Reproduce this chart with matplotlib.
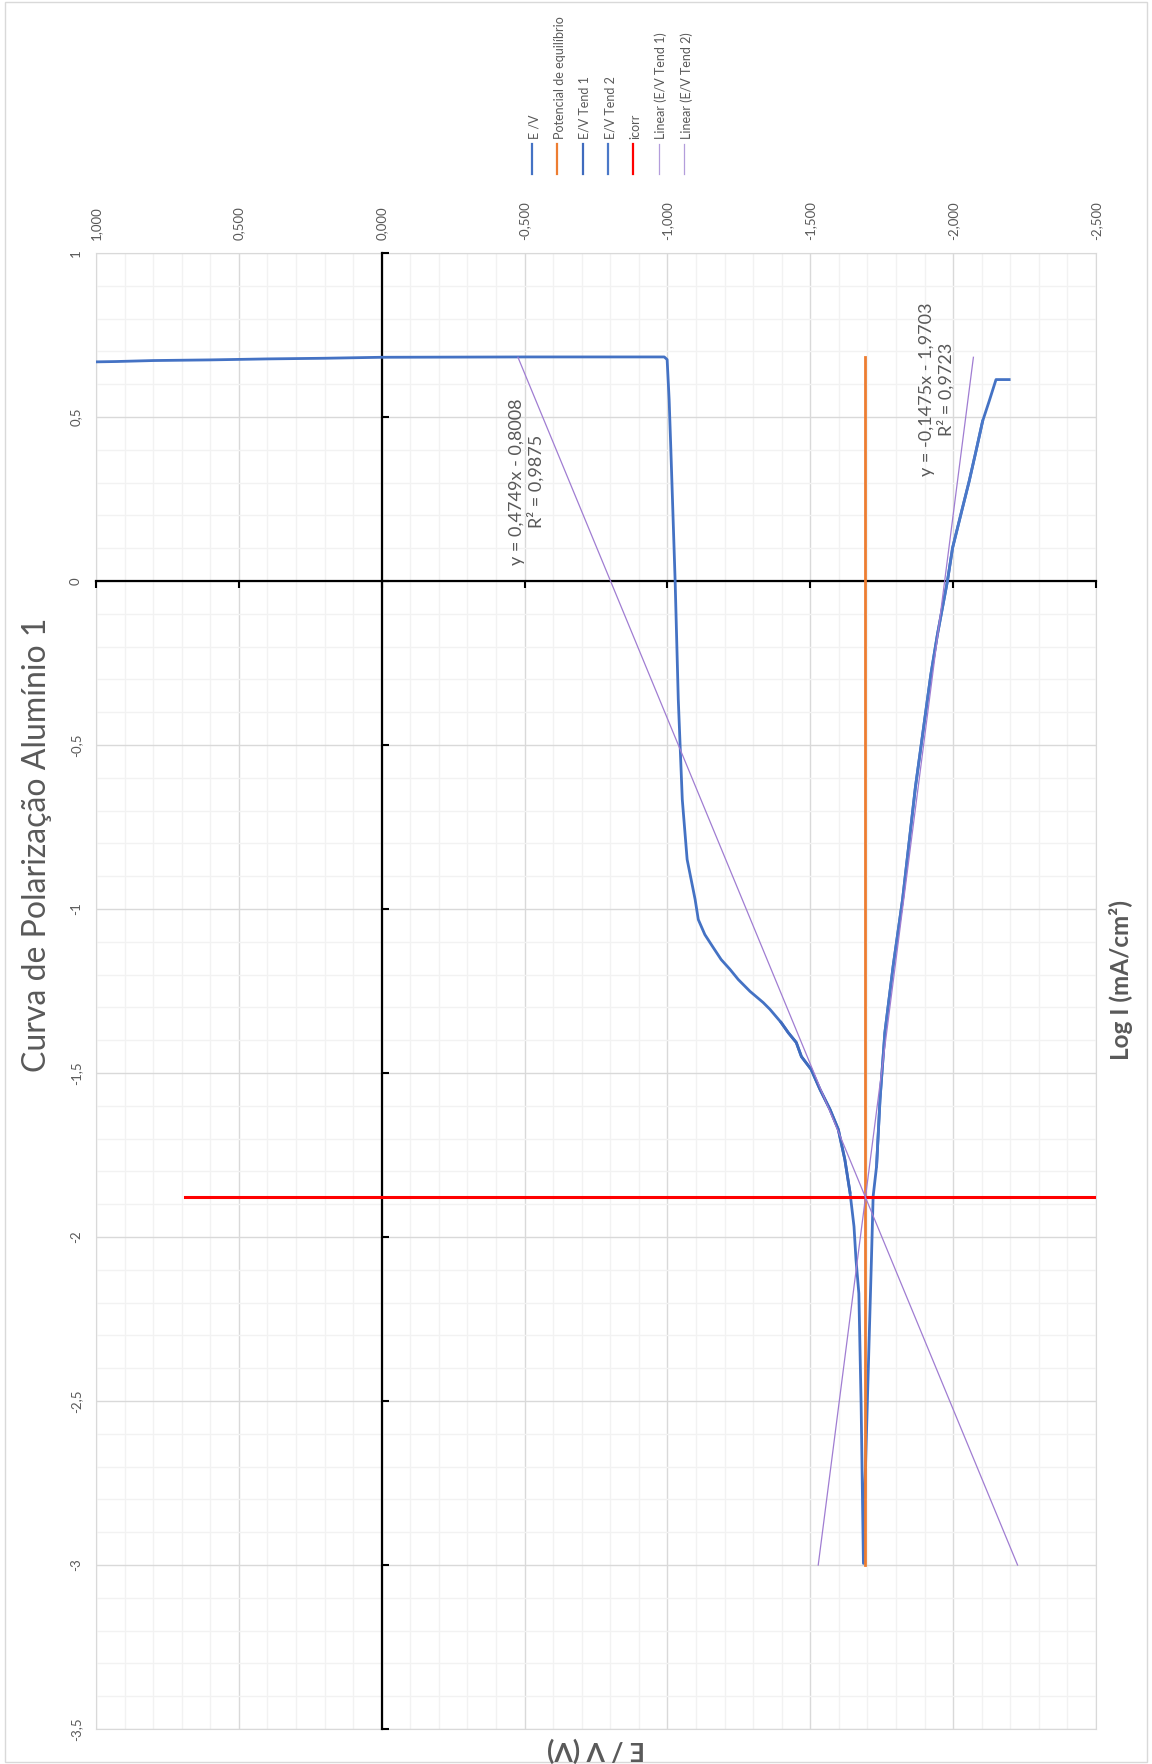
import matplotlib.pyplot as plt
from matplotlib.ticker import MultipleLocator, FuncFormatter
from matplotlib.lines import Line2D
from matplotlib.patches import Rectangle

plt.rcParams.update({
    "font.family": ["Lato", "DejaVu Sans"],
    "axes.unicode_minus": False,
})

# curva de polarização: E (V) vs log I (mA/cm2), na ordem da varredura
e_v = [-2.196, -2.150, -2.126, -2.103, -2.080, -2.056, -2.027, -1.998, -1.980,
       -1.945, -1.922, -1.868, -1.823, -1.790, -1.761, -1.744, -1.732, -1.720,
       -1.714, -1.703, -1.692, -1.686,
       -1.678, -1.670, -1.660, -1.653, -1.639, -1.621, -1.598, -1.569, -1.534,
       -1.503, -1.469, -1.451, -1.423, -1.398, -1.359, -1.335, -1.289, -1.248,
       -1.219, -1.188, -1.160, -1.131, -1.108, -1.097, -1.069, -1.052, -1.038,
       -1.027, -1.012, -1.006, -0.999, -0.989, -0.500, 0.000, 0.200, 0.400,
       0.600, 0.800, 0.930, 1.000]
log_i = [0.614, 0.614, 0.548, 0.487, 0.396, 0.304, 0.203, 0.101, 0.000,
         -0.163, -0.285, -0.628, -0.971, -1.174, -1.377, -1.581, -1.784, -1.876,
         -2.069, -2.404, -2.739, -2.995,
         -2.514, -2.172, -2.069, -1.968, -1.864, -1.764, -1.672, -1.611, -1.550,
         -1.489, -1.450, -1.407, -1.377, -1.346, -1.306, -1.285, -1.251, -1.215,
         -1.184, -1.154, -1.117, -1.078, -1.032, -0.971, -0.849, -0.666, -0.361,
         0.000, 0.401, 0.553, 0.675, 0.683, 0.683, 0.682, 0.679, 0.677,
         0.674, 0.672, 0.669, 0.668]

# trechos usados nas retas de Tafel
tend1_e = e_v[26:36]
tend1_logi = log_i[26:36]
tend2_e = e_v[3:17]
tend2_logi = log_i[3:17]

# retas de tendência (Excel)
tend1_a, tend1_b, tend1_r2 = 0.4749, -0.8008, 0.9875
tend2_a, tend2_b, tend2_r2 = -0.1475, -1.9703, 0.9723
trend_x = [-3.0, 0.682]

e_eq = -1.69          # potencial de equilíbrio
eq_logi = [-3.0, 0.682]
logi_corr = -1.879    # icorr
corr_e = [0.69, -2.5]

fmt_e = FuncFormatter(lambda v, p: f"{v:.3f}".replace(".", ","))
fmt_i = FuncFormatter(lambda v, p: f"{v:g}".replace(".", ","))

grey = "#595959"
fig = plt.figure(figsize=(11.52, 17.64), dpi=100)
rect = [0.0833, 0.0198, 0.8681, 0.8368]

ax = fig.add_axes(rect)
ax.set_xlim(1, -2.5)
ax.set_ylim(-3.5, 1)
for axis in (ax.xaxis, ax.yaxis):
    axis.set_major_locator(MultipleLocator(0.5))
    axis.set_minor_locator(MultipleLocator(0.1))
ax.xaxis.set_major_formatter(fmt_e)
ax.yaxis.set_major_formatter(fmt_i)
ax.grid(which="minor", color="#F2F2F2", lw=1)
ax.grid(which="major", color="#D9D9D9", lw=1)
ax.set_axisbelow(True)
ax.tick_params(which="both", length=0)
ax.tick_params(axis="x", labeltop=True, labelbottom=False, labelrotation=90,
               labelsize=9.5, labelcolor=grey, pad=9)
ax.tick_params(axis="y", labelrotation=90, labelsize=9.5, labelcolor=grey,
               pad=10)
for lbl in ax.get_yticklabels():
    lbl.set_verticalalignment("center")
for s in ax.spines.values():
    s.set_color("#D9D9D9")

# eixos pretos cruzando em zero + séries
ax2 = fig.add_axes(rect, facecolor="none")
ax2.set_xlim(1, -2.5)
ax2.set_ylim(-3.5, 1)
ax2.xaxis.set_major_locator(MultipleLocator(0.5))
ax2.yaxis.set_major_locator(MultipleLocator(0.5))
ax2.spines["left"].set_position(("data", 0))
ax2.spines["bottom"].set_position(("data", 0))
ax2.spines["top"].set_visible(False)
ax2.spines["right"].set_visible(False)
for k in ("left", "bottom"):
    ax2.spines[k].set_linewidth(1.6)
    ax2.spines[k].set_color("black")
ax2.tick_params(axis="x", direction="out", length=5, width=1.5,
                labelbottom=False)
ax2.tick_params(axis="y", direction="in", length=5, width=1.5,
                labelleft=False)

ax2.plot(e_v, log_i, color="#4472C4", lw=2, zorder=3)
ax2.plot(tend1_e, tend1_logi, color="#3F6BBE", lw=2, zorder=3)
ax2.plot(tend2_e, tend2_logi, color="#4A78C8", lw=2, zorder=3)
ax2.plot([e_eq, e_eq], eq_logi, color="#ED7D31", lw=2, zorder=3)
ax2.plot(corr_e, [logi_corr, logi_corr], color="#FF0000", lw=2.2, zorder=3)
ax2.plot([tend1_a * x + tend1_b for x in trend_x], trend_x,
         color="#A07DD2", lw=0.9, zorder=3.5)
ax2.plot([tend2_a * x + tend2_b for x in trend_x], trend_x,
         color="#A07DD2", lw=0.9, zorder=3.5)

def eq_text(a, b, r2):
    sign = "-" if b < 0 else "+"
    s = f"y = {a:.4f}x {sign} {abs(b):.4f}\nR² = {r2:.4f}"
    return s.replace(".", ",")

ax2.text(-0.509, 0.303, eq_text(tend1_a, tend1_b, tend1_r2), rotation=90,
         ha="center", va="center", ma="center", fontsize=13, color=grey,
         linespacing=1.15)
ax2.text(-1.943, 0.584, eq_text(tend2_a, tend2_b, tend2_r2), rotation=90,
         ha="center", va="center", ma="center", fontsize=13, color=grey,
         linespacing=1.15)

# títulos
fig.text(0.0321, 0.521, "Curva de Polarização Alumínio 1", rotation=90,
         ha="center", va="center", fontsize=23, color=grey)
fig.text(0.9731, 0.4444, "Log I (mA/cm²)", rotation=90, ha="center",
         va="center", fontsize=17.5, fontweight="bold", color=grey)
fig.text(0.5174, 0.0079, "E / V (V)", rotation=180, ha="center",
         va="center", fontsize=19, fontweight="bold", color=grey)

# legenda na vertical
legend_items = [
    ("E /V", "#4472C4", 1.6),
    ("Potencial de equilíbrio", "#ED7D31", 1.6),
    ("E/V Tend 1", "#3F6BBE", 1.6),
    ("E/V Tend 2", "#4A78C8", 1.6),
    ("icorr", "#FF0000", 1.6),
    ("Linear (E/V Tend 1)", "#B39DDB", 0.9),
    ("Linear (E/V Tend 2)", "#B39DDB", 0.9),
]
for i, (name, col, lw) in enumerate(legend_items):
    x = 0.4618 + i * 0.0220
    fig.add_artist(Line2D([x, x], [0.9014, 0.9184], color=col, lw=lw,
                          transform=fig.transFigure))
    fig.text(x + 0.002, 0.9212, name, rotation=90, ha="center", va="bottom",
             fontsize=9, color=grey)

fig.add_artist(Rectangle((0.004, 0.001), 0.992, 0.998, fill=False,
                         edgecolor="#D9D9D9", lw=1, transform=fig.transFigure))

fig.savefig("out.png", dpi=100)
